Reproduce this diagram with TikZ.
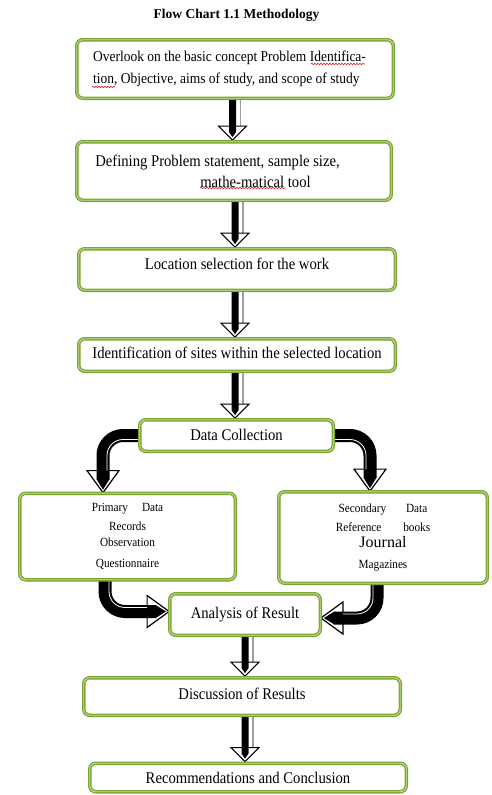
\documentclass[tikz,border=0pt]{standalone}
\usepackage{fontspec}
\setmainfont{Liberation Serif}[FakeStretch=0.9]
\newfontfamily\plainserif{Liberation Serif}
\usetikzlibrary{calc,decorations.pathmorphing}
\definecolor{gdark}{RGB}{122,165,50}
\definecolor{glight}{RGB}{196,224,150}
\definecolor{spellred}{RGB}{225,30,30}
\definecolor{shadowgray}{RGB}{160,160,160}
\newcommand\ctext[2]{\raisebox{#1pt}[0pt][0pt]{#2}}
\pgfdeclarelayer{bg}
\pgfsetlayers{bg,main}
\tikzset{
  gbox/.style={draw=gdark, double=glight, double distance=0.9pt, line width=1.3pt,
    rounded corners=6pt, fill=white, inner sep=2pt, align=center,
    font=\fontsize{16.3}{20}\selectfont},
  smallbox/.style={gbox, font=\fontsize{12.5}{16}\selectfont},
  arrshadow/.style={draw=shadowgray, line width=1.4pt},
  arrhead/.style={fill=white, draw=black, line width=1.2pt, line join=miter},
  band/.style={draw=black, line width=13pt, rounded corners=20pt},
  bandlight/.style={draw=white, line width=0.8pt, rounded corners=16pt},
  squiggle/.style={draw=spellred, line width=0.6pt, decorate,
    decoration={snake, segment length=3pt, amplitude=0.8pt}},
}
% straight block arrow from node #1 down to node #2, horizontal offset #3
\newcommand\flowdown[3]{%
  \coordinate (fa#1) at ($(#1.south)+(#3,0)$);
  \coordinate (fb#1) at (fa#1 |- #2.north);
  \draw[arrshadow] ($(fa#1)+(8,0)$) -- ($(fb#1)+(8,-13)$);
  \filldraw[arrhead] ($(fb#1)+(-14,-15)$) -- ($(fb#1)+(0,-1)$) -- ($(fb#1)+(14,-15)$) -- cycle;
  \fill[black] ($(fa#1)+(-3.5,0)$) -- ($(fa#1)+(3.5,0)$) -- ($(fb#1)+(3.5,-9)$)
     -- ($(fb#1)+(0,-4)$) -- ($(fb#1)+(-3.5,-9)$) -- cycle;
}
\begin{document}
\begin{tikzpicture}[x=1pt, y=-1pt]
\useasboundingbox (0,0) rectangle (491,795);

\node[font=\plainserif\bfseries\fontsize{13.5}{16}\selectfont] (title) at (236.5,15) {Flow Chart 1.1 Methodology};

\node[gbox, minimum width=316.5pt, minimum height=58.5pt, align=left,
      font=\fontsize{15}{22}\selectfont] (b1) at (235,69)
  {Overlook on the basic concept Problem Identifica-\hspace*{11pt}\\
   tion, Objective, aims of study, and scope of study};

\node[gbox, minimum width=314.5pt, minimum height=58.5pt, align=left,
      font=\fontsize{16.3}{21}\selectfont] (b2) at (234,171)
  {Defining Problem statement, sample size,\hspace*{33pt}\\
   \hspace*{105pt}mathe-matical tool};

\node[gbox, minimum width=316.5pt, minimum height=41.5pt] (b3) at (237,269.5)
  {\ctext{0.5}{Location selection for the work}};

\node[gbox, minimum width=316.5pt, minimum height=32.5pt] (b4) at (237,355)
  {\ctext{-3.8}{Identification of sites within the selected location}};

\node[gbox, minimum width=193.5pt, minimum height=31.5pt] (dc) at (236.5,435.5)
  {\ctext{-5}{Data Collection}};

\node[smallbox, minimum width=215.5pt, minimum height=86.5pt] (pri) at (127.5,536.5)
  {Primary\hspace{14pt}Data\\[3pt]
   Records\\[0pt]
   Observation\\[5pt]
   Questionnaire};

\node[smallbox, minimum width=208.5pt, minimum height=91.5pt] (sec) at (383,537.5)
  {Secondary\hspace{20pt}Data\\[3pt]
   Reference\hspace{22pt}books\\[-0.2pt]
   {\plainserif\fontsize{16}{16}\selectfont Journal}\\[5.2pt]
   Magazines};

\node[gbox, minimum width=150.5pt, minimum height=41.5pt] (an) at (245,614.5)
  {\ctext{-4}{Analysis of Result}};

\node[gbox, minimum width=316.5pt, minimum height=37.5pt] (disc) at (242,696.5)
  {\ctext{-3}{Discussion of Results}};

\node[gbox, minimum width=316.5pt, minimum height=28.5pt] (rec) at (248,777.5)
  {\ctext{-5.5}{Recommendations and Conclusion}};

% spell-check underlines
\draw[squiggle] ([xshift=76pt,yshift=5pt]b1.center) -- ([xshift=130pt,yshift=5pt]b1.center);
\draw[squiggle] ([xshift=-143pt,yshift=-18pt]b1.center) -- ([xshift=-120pt,yshift=-18pt]b1.center);
\draw[squiggle] ([xshift=-34pt,yshift=-17pt]b2.center) -- ([xshift=51pt,yshift=-17pt]b2.center);

\begin{pgfonlayer}{bg}
  \flowdown{b1}{b2}{-2.5}
  \flowdown{b2}{b3}{1}
  \flowdown{b3}{b4}{-2}
  \flowdown{b4}{dc}{-2}
  \flowdown{an}{disc}{0}
  \flowdown{disc}{rec}{3}

  % Data Collection -> Primary
  \coordinate (t1) at ([xshift=-24.5pt]pri.north);
  \filldraw[arrhead] ([xshift=-16pt,yshift=22pt]t1) -- (t1) -- ([xshift=16pt,yshift=22pt]t1) -- cycle;
  \draw[band] (dc.west) -| ([yshift=13pt]t1);
  \draw[bandlight] ([yshift=-4pt]dc.west) -| ([xshift=4pt,yshift=22pt]t1);
  \fill[black] ([xshift=-6.5pt,yshift=13.5pt]t1) -- ([xshift=6.5pt,yshift=13.5pt]t1) -- ([yshift=3pt]t1) -- cycle;

  % Data Collection -> Secondary
  \coordinate (t2) at ([xshift=-13pt]sec.north);
  \filldraw[arrhead] ([xshift=-16pt,yshift=22pt]t2) -- (t2) -- ([xshift=16pt,yshift=22pt]t2) -- cycle;
  \draw[band] (dc.east) -| ([yshift=13pt]t2);
  \draw[bandlight] ([yshift=-4pt]dc.east) -| ([xshift=-4pt,yshift=22pt]t2);
  \fill[black] ([xshift=-6.5pt,yshift=13.5pt]t2) -- ([xshift=6.5pt,yshift=13.5pt]t2) -- ([yshift=3pt]t2) -- cycle;

  % Primary -> Analysis
  \coordinate (t3) at ([yshift=3pt]an.west);
  \filldraw[arrhead] ([xshift=-22pt,yshift=16pt]t3) -- (t3) -- ([xshift=-22pt,yshift=-16pt]t3) -- cycle;
  \draw[band] ([xshift=-22.5pt]pri.south) |- ([xshift=-13pt]t3);
  \draw[bandlight] ([xshift=-18.5pt]pri.south) |- ([xshift=-22pt,yshift=4pt]t3);
  \fill[black] ([xshift=-13.5pt,yshift=6.5pt]t3) -- ([xshift=-13.5pt,yshift=-6.5pt]t3) -- ([xshift=-3pt]t3) -- cycle;

  % Secondary -> Analysis
  \coordinate (t4) at ([yshift=-3.5pt]an.east);
  \filldraw[arrhead] ([xshift=22pt,yshift=16pt]t4) -- (t4) -- ([xshift=22pt,yshift=-16pt]t4) -- cycle;
  \draw[band] ([xshift=-6pt]sec.south) |- ([xshift=13pt]t4);
  \draw[bandlight] ([xshift=-10pt]sec.south) |- ([xshift=22pt,yshift=4pt]t4);
  \fill[black] ([xshift=13.5pt,yshift=6.5pt]t4) -- ([xshift=13.5pt,yshift=-6.5pt]t4) -- ([xshift=3pt]t4) -- cycle;
\end{pgfonlayer}
\end{tikzpicture}
\end{document}
